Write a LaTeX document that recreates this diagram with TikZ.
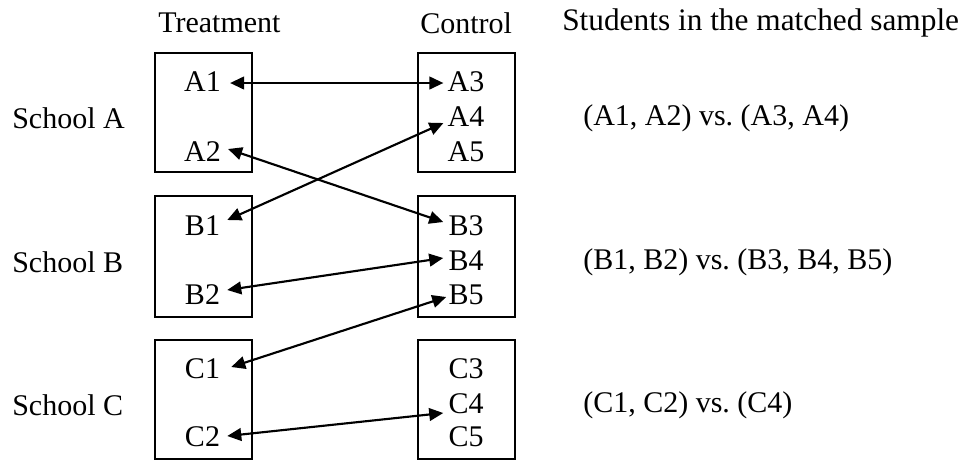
\documentclass[tikz,border=0pt]{standalone}
\usepackage{fontspec}
\setmainfont{Liberation Serif}
\usetikzlibrary{arrows.meta,calc}
\frenchspacing
\begin{document}
\begin{tikzpicture}[x=0.75pt,y=-0.75pt,
  lbl/.style={inner sep=0pt,font=\fontsize{22.5}{26}\selectfont},
  txt/.style={inner sep=0pt,font=\fontsize{22.5}{26}\selectfont},
  grp/.style={draw,line width=1.5pt,minimum width=72.75pt,minimum height=89.5pt,inner sep=0pt},
  link/.style={line width=1.6pt,{Triangle[length=10.5pt,width=9.5pt]}-{Triangle[length=10.5pt,width=9.5pt]}}]
\useasboundingbox (0,0) rectangle (960,462);
% headers
\node[txt,anchor=west] (hT) at (158,23) {Treatment};
\node[txt,anchor=west] (hC) at (420,23) {Control};
\node[txt,anchor=west,font=\fontsize{23.5}{26}\selectfont] (hS) at (562,23) {Students in the matched sample};
% school labels
\node[txt,anchor=west] (sA) at (12,118) {School A};
\node[txt,anchor=west] (sB) at (12,262) {School B};
\node[txt,anchor=west] (sC) at (12,405) {School C};
% matched samples
\node[txt,anchor=west] (mA) at (583,118) {(A1, A2) vs. (A3, A4)};
\node[txt,anchor=west] (mB) at (583,262) {(B1, B2) vs. (B3, B4, B5)};
\node[txt,anchor=west] (mC) at (583,405) {(C1, C2) vs. (C4)};
% boxes
\node[grp] (tA) at (203,112.5) {};
\node[grp] (cA) at (466.5,112.5) {};
\node[grp,minimum height=91pt] (tB) at (203,256.5) {};
\node[grp,minimum height=91pt] (cB) at (466.5,256.5) {};
\node[grp] (tC) at (203,399.5) {};
\node[grp] (cC) at (466.5,399.5) {};
% labels
\node[lbl] (A1) at (202.5,82) {A1};
\node[lbl] (A2) at (202.5,152) {A2};
\node[lbl] (A3) at (466,82) {A3};
\node[lbl] (A4) at (466,117) {A4};
\node[lbl] (A5) at (466,152) {A5};
\node[lbl] (B1) at (202.5,226) {B1};
\node[lbl] (B2) at (202.5,295) {B2};
\node[lbl] (B3) at (466,226) {B3};
\node[lbl] (B4) at (466,261) {B4};
\node[lbl] (B5) at (466,295) {B5};
\node[lbl] (C1) at (202.5,369) {C1};
\node[lbl] (C2) at (202.5,437) {C2};
\node[lbl] (C3) at (466,369) {C3};
\node[lbl] (C4) at (466,404) {C4};
\node[lbl] (C5) at (466,437) {C5};
% connectors
\draw[link] ($(A1.east)+(9,1)$) -- ($(A3.west)+(-4,1)$);
\draw[link] ($(A2.east)+(7,-3)$) -- ($(B3.west)+(-5,-4)$);
\draw[link] ($(B1.east)+(7,-6)$) -- ($(A4.west)+(-4,6)$);
\draw[link] ($(B2.east)+(7,-5)$) -- ($(B4.west)+(-5,-3)$);
\draw[link] ($(C1.east)+(11,-2)$) -- ($(B5.west)+(-2,2)$);
\draw[link] ($(C2.east)+(7,-1)$) -- ($(C4.west)+(-5,9)$);
\end{tikzpicture}
\end{document}
